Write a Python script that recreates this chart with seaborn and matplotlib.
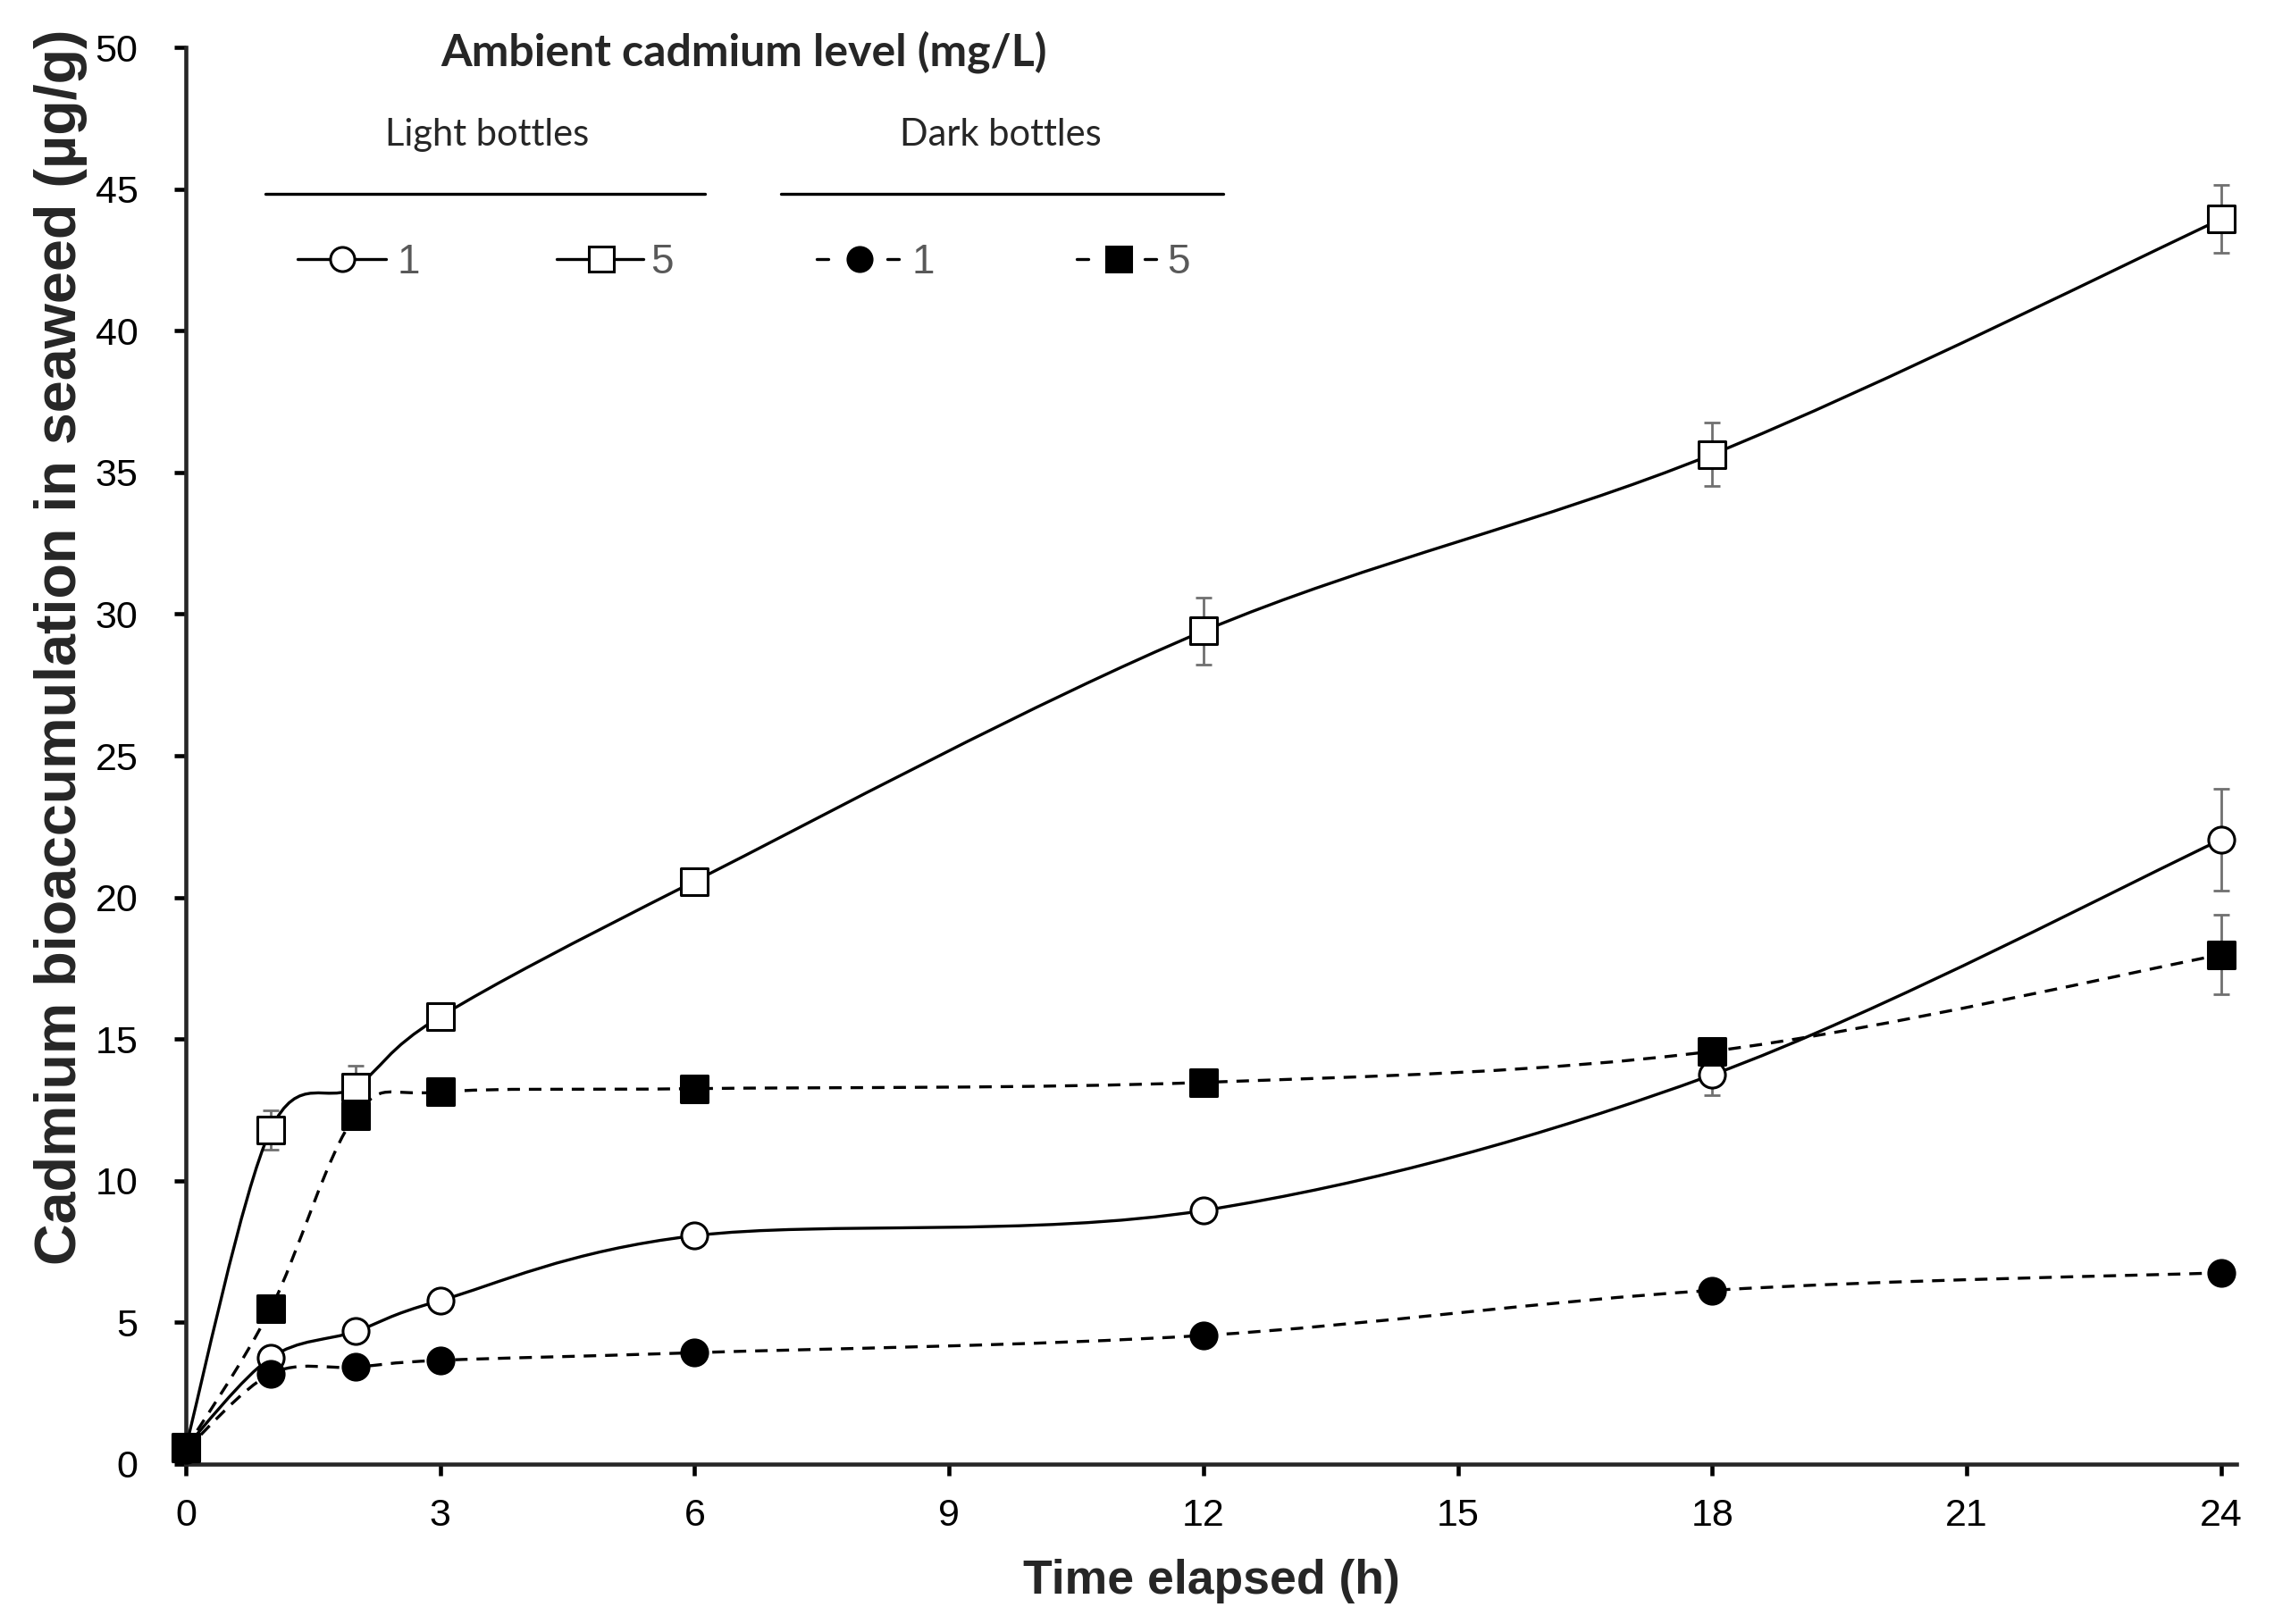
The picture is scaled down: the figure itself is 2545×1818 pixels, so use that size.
import numpy as np
import pandas as pd
import matplotlib.pyplot as plt
import seaborn as sns
from matplotlib.path import Path
from matplotlib.patches import PathPatch
from matplotlib.lines import Line2D

# data
hours = [0, 1, 2, 3, 6, 12, 18, 24]

light_1 = [0.6, 3.75, 4.68, 5.77, 8.06, 8.95, 13.74, 22.04]
light_1_err = [0.1, 0.2, 0.2, 0.2, 0.2, 0.3, 0.72, 1.8]
light_5 = [0.6, 11.79, 13.31, 15.79, 20.57, 29.4, 35.64, 43.94]
light_5_err = [0.1, 0.7, 0.76, 0.4, 0.4, 1.17, 1.12, 1.2]
dark_1 = [0.5, 3.18, 3.42, 3.66, 3.93, 4.54, 6.13, 6.75]
dark_1_err = [0.1, 0.2, 0.2, 0.2, 0.2, 0.3, 0.3, 0.3]
dark_5 = [0.55, 5.47, 12.29, 13.13, 13.25, 13.47, 14.57, 17.98]
dark_5_err = [0.1, 0.3, 0.3, 0.2, 0.2, 0.3, 0.4, 1.4]

series = [
    ("Light bottles", "1", light_1, light_1_err, "o", "white", "-"),
    ("Light bottles", "5", light_5, light_5_err, "s", "white", "-"),
    ("Dark bottles", "1", dark_1, dark_1_err, "o", "black", "--"),
    ("Dark bottles", "5", dark_5, dark_5_err, "s", "black", "--"),
]

sns.set_style("ticks")
plt.rcParams["font.family"] = ["Liberation Sans", "DejaVu Sans"]

W, H = 2545, 1818
fig = plt.figure(figsize=(W / 100, H / 100), dpi=100)
ax = fig.add_axes([0.0817, 0.0985, 0.9018, 0.8723])


def smooth_path(x, y):
    # excel-like smoothed line: bezier segments through the points
    pts = np.column_stack([x, y]).astype(float)
    n = len(pts)
    verts = [pts[0]]
    codes = [Path.MOVETO]
    for i in range(n - 1):
        p0 = pts[max(i - 1, 0)]
        p1 = pts[i]
        p2 = pts[i + 1]
        p3 = pts[min(i + 2, n - 1)]
        verts += [p1 + (p2 - p0) / 6, p2 - (p3 - p1) / 6, p2]
        codes += [Path.CURVE4] * 3
    return Path(verts, codes)


DASH = (0, (4.2, 3.0))
for k, (grp, lvl, vals, err, mk, fc, ls) in enumerate(series):
    ax.add_patch(PathPatch(smooth_path(hours, vals), facecolor="none", edgecolor="black",
                           lw=2.4, linestyle=DASH if ls == "--" else "-", zorder=3 + k))
    ax.errorbar(hours, vals, yerr=err, fmt="none", ecolor="#707070", elinewidth=2.0,
                capsize=6.3, capthick=2.0, zorder=2, clip_on=False)
    sns.scatterplot(x=hours, y=vals, marker=mk, s=440 if mk == "o" else 470, color=fc,
                    edgecolor="black", linewidth=2.2, zorder=10 + k, clip_on=False, ax=ax)

ax.set_xlim(0, 24.18)
ax.set_ylim(0, 50)
ax.set_xticks(range(0, 25, 3))
ax.set_yticks(range(0, 51, 5))
sns.despine(ax=ax)
for s in ["left", "bottom"]:
    ax.spines[s].set_linewidth(3.3)
ax.tick_params(axis="both", direction="out", length=9.4, width=3.3, labelsize=31, colors="black")
ax.tick_params(axis="y", pad=29)
ax.tick_params(axis="x", pad=18)

ax.set_xlabel("Time elapsed (h)", fontsize=38.5, fontweight="bold")
ax.xaxis.set_label_coords(0.5, -0.067)
ax.set_ylabel("Cadmium bioaccumulation in seaweed (µg/g)", fontsize=46.5, fontweight="bold")
ax.yaxis.set_label_coords(-0.048, 0.577)


# custom legend drawn at the top, positions in pixels of the figure
def fx(px):
    return px / W


def fy(py):
    return 1 - py / H


cal = ["Lato", "DejaVu Sans"]
narrow = ["Liberation Sans Narrow", "Liberation Sans", "DejaVu Sans"]
fig.text(fx(833), fy(73), "Ambient cadmium level (mg/L)", ha="center", va="baseline",
         fontsize=36, fontweight="bold", family=cal)
fig.text(fx(545), fy(163), "Light bottles", ha="center", va="baseline", fontsize=30, family=cal)
fig.text(fx(1120), fy(163), "Dark bottles", ha="center", va="baseline", fontsize=30, family=cal)
for x0, x1 in [(297, 789), (874, 1369)]:
    fig.add_artist(Line2D([fx(x0), fx(x1)], [fy(217), fy(217)], color="black", lw=2.4))

legend_items = [
    # (line from, line to, marker x, label x)
    (333, 432, 383, 445),
    (623, 720, 673, 728),
    (914, 1006, 962, 1020),
    (1205, 1294, 1252, 1306),
]
for (grp, lvl, vals, err, mk, fc, ls), (x0, x1, xm, xl) in zip(series, legend_items):
    if ls == "-":
        fig.add_artist(Line2D([fx(x0), fx(x1)], [fy(290), fy(290)], color="black", lw=2.4))
    else:
        for a, b in [(x0, x0 + 13), (x1 - 13, x1)]:
            fig.add_artist(Line2D([fx(a), fx(b)], [fy(290), fy(290)], color="black", lw=2.4))
    fig.add_artist(Line2D([fx(xm)], [fy(290)], marker=mk, markersize=19.5 if mk == "o" else 20,
                          markerfacecolor=fc, markeredgecolor="black", markeredgewidth=2.2,
                          linestyle="none"))
    fig.text(fx(xl), fy(306), lvl, ha="left", va="baseline", fontsize=33, color="#595959",
             family=narrow)

fig.savefig("out.png", dpi=100, facecolor="white")
